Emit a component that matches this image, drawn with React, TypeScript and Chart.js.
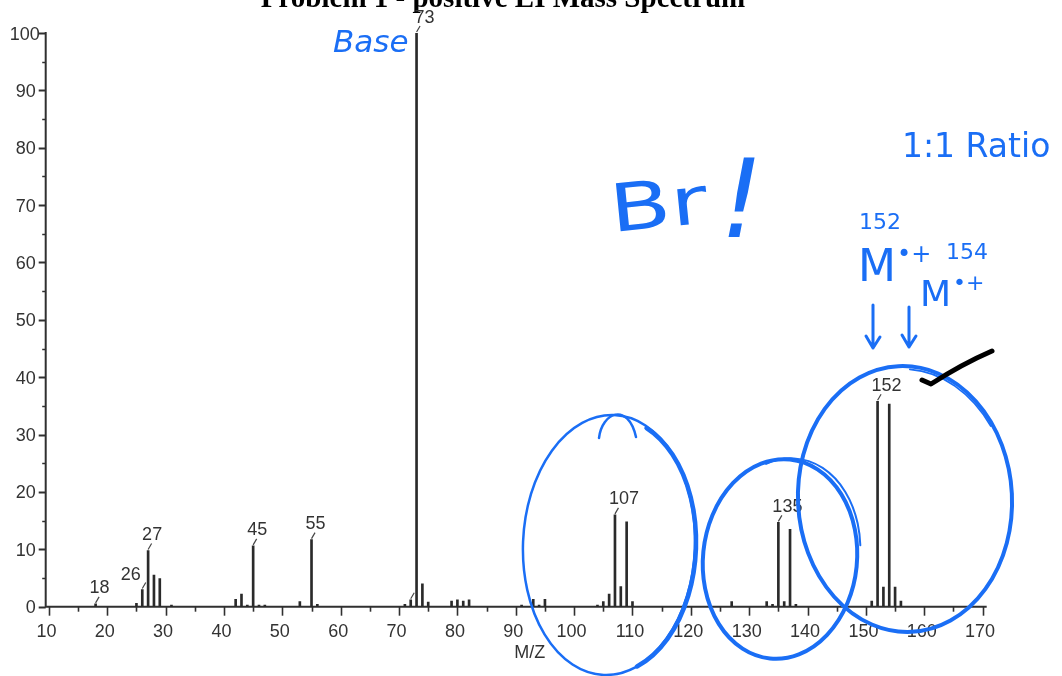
import { useEffect, useRef } from 'react';
import { Chart, registerables } from 'chart.js';

Chart.register(...registerables);

// Peak list: m/z and relative abundance (%)
const MZ = [
  18, 25, 26, 27, 28, 29, 31, 42, 43, 44, 45, 46, 47, 53, 55, 56,
  71, 72, 73, 74, 75, 79, 80, 81, 82, 91, 93, 94, 95,
  104, 105, 106, 107, 108, 109, 110,
  127, 133, 134, 135, 136, 137, 138,
  151, 152, 153, 154, 155, 156,
];
const INTENSITY = [
  0.5, 0.6, 3.0, 9.8, 5.5, 4.9, 0.3, 1.3, 2.2, 0.3, 10.6, 0.3, 0.3, 0.9, 11.7, 0.4,
  0.4, 1.2, 100, 4.0, 0.8, 1.0, 1.2, 1.0, 1.2, 0.3, 1.3, 0.3, 1.3,
  0.3, 0.9, 2.2, 16.0, 3.5, 14.8, 0.9,
  0.9, 0.9, 0.4, 14.7, 0.9, 13.5, 0.4,
  1.0, 35.8, 3.4, 35.3, 3.4, 1.0,
];
// Peaks carrying an m/z label
const LABELED_MZ = [18, 26, 27, 45, 55, 73, 107, 135, 152];
// Peaks that get a label marker but no text
const MARKED_MZ = [72];

const X_TICKS = [10, 20, 30, 40, 50, 60, 70, 80, 90, 100, 110, 120, 130, 140, 150, 160, 170];
const Y_TICKS = [0, 10, 20, 30, 40, 50, 60, 70, 80, 90, 100];
const TITLE = 'Problem 1 - positive EI Mass Spectrum';
const X_TITLE = 'M/Z';

// Hand-written notes
const NOTE_BASE = 'Base';
const NOTE_BR = 'Br';
const NOTE_BANG = '!';
const NOTE_RATIO = '1:1 Ratio';
const NOTE_M1 = '152';
const NOTE_M2 = '154';
const NOTE_ION = 'M';
const NOTE_ION_SUP = '•+';

const INK = '#1a6ef5';
const AXIS = '#303030';
const TEXT = '#333333';
const LABEL_FONT = '18px "Liberation Sans", Arial, sans-serif';
const HAND_FONT = '"DejaVu Sans", sans-serif';

function valueAt(mz: number): number {
  const i = MZ.indexOf(mz);
  return i >= 0 ? INTENSITY[i] : 0;
}

const spectrumDecor = {
  id: 'spectrumDecor',
  beforeDatasetsDraw(chart: any) {
    const { ctx, chartArea: a, scales } = chart;
    const x = scales.x;
    const y = scales.y;
    ctx.save();
    ctx.strokeStyle = AXIS;
    ctx.lineWidth = 2;
    ctx.beginPath();
    ctx.moveTo(a.left, a.top - 1);
    ctx.lineTo(a.left, a.bottom);
    ctx.lineTo(a.right, a.bottom);
    ctx.stroke();

    // y ticks: majors every 10, minors every 5
    for (let v = 0; v <= 100; v += 5) {
      const py = Math.round(y.getPixelForValue(v)) + 0.5;
      const major = v % 10 === 0;
      ctx.lineWidth = major ? 2 : 1.5;
      ctx.beginPath();
      ctx.moveTo(a.left - (major ? 7 : 3.5), py);
      ctx.lineTo(a.left, py);
      ctx.stroke();
    }
    // x ticks
    for (let v = 10; v <= 170; v += 5) {
      const px = Math.round(x.getPixelForValue(v)) + 0.5;
      const major = v % 10 === 0;
      ctx.lineWidth = 1.6;
      ctx.beginPath();
      ctx.moveTo(px, a.bottom);
      ctx.lineTo(px, a.bottom + (major ? 9 : 5));
      ctx.stroke();
    }

    ctx.fillStyle = TEXT;
    ctx.font = LABEL_FONT;
    ctx.textAlign = 'right';
    ctx.textBaseline = 'alphabetic';
    Y_TICKS.forEach((v) => {
      ctx.fillText(String(v), a.left - (v === 100 ? 6 : 10), y.getPixelForValue(v) + 6.5);
    });
    ctx.textAlign = 'center';
    X_TICKS.forEach((v) => {
      ctx.fillText(String(v), x.getPixelForValue(v) - 2.5, a.bottom + 30.5);
    });
    ctx.fillText(X_TITLE, x.getPixelForValue(92.4), a.bottom + 51.5);

    ctx.fillStyle = '#000';
    ctx.font = 'bold 29px "Liberation Serif", "Times New Roman", serif';
    ctx.fillText(TITLE, 503, 6.5);
    ctx.restore();
  },
  afterDatasetsDraw(chart: any) {
    const { ctx, scales } = chart;
    const x = scales.x;
    const y = scales.y;
    ctx.save();

    // peak labels with their small slanted markers
    ctx.strokeStyle = '#444';
    ctx.lineWidth = 1.2;
    [...LABELED_MZ, ...MARKED_MZ].forEach((mz) => {
      const px = x.getPixelForValue(mz);
      const top = y.getPixelForValue(valueAt(mz));
      ctx.beginPath();
      ctx.moveTo(px, top - 1);
      ctx.lineTo(px + 3.5, top - 7);
      ctx.stroke();
    });
    ctx.fillStyle = TEXT;
    ctx.font = LABEL_FONT;
    ctx.textBaseline = 'alphabetic';
    LABELED_MZ.forEach((mz) => {
      const px = x.getPixelForValue(mz);
      const top = y.getPixelForValue(valueAt(mz));
      if (mz === 26) {
        ctx.textAlign = 'right';
        ctx.fillText(String(mz), px - 1.5, top - 9);
      } else {
        ctx.textAlign = 'left';
        ctx.fillText(String(mz), px - (mz === 73 ? 2 : 6), top - 10.5);
      }
    });

    // ink notes
    ctx.strokeStyle = INK;
    ctx.fillStyle = INK;
    ctx.lineCap = 'round';
    ctx.lineJoin = 'round';

    // loop around the m/z 107/109 pair
    ctx.lineWidth = 2.5;
    ctx.beginPath();
    ctx.ellipse(609, 545, 86, 130, 0.04, 0, Math.PI * 2);
    ctx.stroke();
    ctx.lineWidth = 4.5;
    ctx.beginPath();
    ctx.ellipse(611, 546, 85, 128, 0.04, -1.2, 1.2);
    ctx.stroke();
    ctx.lineWidth = 2.5;
    ctx.beginPath();
    ctx.moveTo(599, 438);
    ctx.bezierCurveTo(602, 412, 628, 402, 636, 437);
    ctx.stroke();

    // loop around the m/z 135/137 pair
    ctx.lineWidth = 4;
    ctx.beginPath();
    ctx.ellipse(780, 559, 77, 100, 0.1, 0, Math.PI * 2);
    ctx.stroke();
    ctx.lineWidth = 2;
    ctx.beginPath();
    ctx.ellipse(786, 556, 74, 98, 0.12, -2.0, -0.2);
    ctx.stroke();

    // loop around the molecular ion pair
    ctx.lineWidth = 4;
    ctx.beginPath();
    ctx.ellipse(905, 499, 107, 133, -0.05, 0, Math.PI * 2);
    ctx.stroke();
    ctx.lineWidth = 1.8;
    ctx.beginPath();
    ctx.ellipse(908, 503, 104, 134, -0.08, -1.45, -0.55);
    ctx.stroke();

    // text notes
    ctx.textAlign = 'left';
    ctx.font = `italic 31px ${HAND_FONT}`;
    ctx.fillText(NOTE_BASE, 333, 52);
    ctx.font = `66px ${HAND_FONT}`;
    ctx.save();
    ctx.translate(612, 232);
    ctx.rotate(-0.1);
    ctx.scale(1.35, 1);
    ctx.fillText(NOTE_BR, 0, 0);
    ctx.restore();
    ctx.font = `italic 108px ${HAND_FONT}`;
    ctx.fillText(NOTE_BANG, 720, 237);
    ctx.font = `33px ${HAND_FONT}`;
    ctx.fillText(NOTE_RATIO, 902, 157);
    ctx.font = `22px ${HAND_FONT}`;
    ctx.fillText(NOTE_M1, 859, 229);
    ctx.fillText(NOTE_M2, 946, 259);
    ctx.font = `44px ${HAND_FONT}`;
    ctx.fillText(NOTE_ION, 858, 281);
    ctx.font = `24px ${HAND_FONT}`;
    ctx.fillText(NOTE_ION_SUP, 897, 262);
    ctx.font = `36px ${HAND_FONT}`;
    ctx.fillText(NOTE_ION, 920, 306);
    ctx.font = `22px ${HAND_FONT}`;
    ctx.fillText(NOTE_ION_SUP, 953, 290);

    // down arrows
    ctx.lineWidth = 3;
    [[873, 305, 348], [909, 307, 347]].forEach(([ax, y0, y1]) => {
      ctx.beginPath();
      ctx.moveTo(ax, y0);
      ctx.lineTo(ax, y1);
      ctx.moveTo(ax - 7, y1 - 12);
      ctx.lineTo(ax, y1);
      ctx.lineTo(ax + 7, y1 - 11);
      ctx.stroke();
    });

    // check mark beside the 152 label
    ctx.strokeStyle = '#000';
    ctx.lineWidth = 5;
    ctx.beginPath();
    ctx.moveTo(922, 380);
    ctx.lineTo(931, 384);
    ctx.quadraticCurveTo(962, 364, 992, 351);
    ctx.stroke();

    ctx.restore();
  },
};

export default function App() {
  const canvasRef = useRef<HTMLCanvasElement | null>(null);

  useEffect(() => {
    const canvas = canvasRef.current;
    if (!canvas) return;
    const chart = new Chart(canvas, {
      type: 'bar',
      data: {
        datasets: [
          {
            data: MZ.map((m, i) => ({ x: m, y: INTENSITY[i] })),
            backgroundColor: '#2a2a2a',
            borderWidth: 0,
            barThickness: 2,
          },
        ],
      },
      options: {
        animation: false,
        responsive: false,
        devicePixelRatio: 1,
        layout: { padding: { top: 33, right: 75.3, left: 0, bottom: 0 } },
        plugins: { legend: { display: false }, tooltip: { enabled: false } },
        scales: {
          x: {
            type: 'linear',
            offset: false,
            min: 9.45,
            max: 170.7,
            grid: { display: false },
            border: { display: false },
            ticks: { display: false },
            afterFit: (s: any) => {
              s.height = 69.3;
            },
          },
          y: {
            min: 0,
            max: 100,
            grid: { display: false },
            border: { display: false },
            ticks: { display: false },
            afterFit: (s: any) => {
              s.width = 45.7;
            },
          },
        },
      },
      plugins: [spectrumDecor],
    });
    return () => chart.destroy();
  }, []);

  return (
    <div style={{ position: 'fixed', left: 0, top: 0, width: 1062, height: 676, background: '#fff' }}>
      <canvas ref={canvasRef} width={1062} height={676} />
    </div>
  );
}
